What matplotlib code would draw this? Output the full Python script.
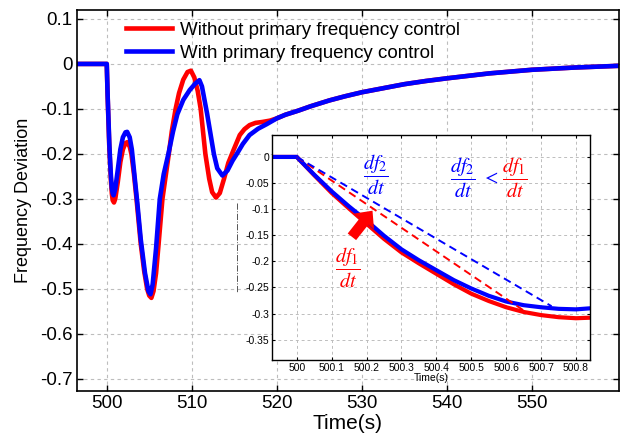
import matplotlib
matplotlib.use('Agg')
import matplotlib.pyplot as plt
from matplotlib.lines import Line2D
from matplotlib.ticker import FuncFormatter

plt.rcParams['font.family'] = 'Liberation Sans'
plt.rcParams['axes.unicode_minus'] = False
plt.rcParams['mathtext.fontset'] = 'stix'

# main curve, without primary frequency control (red)
t_red = [496.5, 500.0, 500.1, 500.2, 500.3, 500.4, 500.5, 500.6, 500.7, 500.85,
         501.0, 501.3, 501.6, 501.9, 502.2, 502.4, 502.7, 502.9, 503.2, 503.5,
         504.0, 504.4, 504.75, 505.0, 505.25, 505.5, 505.8, 506.1, 506.55, 507.0,
         507.3, 507.65, 508.1, 508.5, 509.0, 509.5, 509.9, 510.3, 510.7, 511.05,
         511.6, 512.05, 512.4, 512.85, 513.3, 513.8, 514.3, 514.9, 515.65, 516.2,
         516.8, 517.5, 518.3, 519.2, 520.0, 521.0, 522.5, 524.0, 526.2, 528.0,
         530.0, 532.5, 535.0, 537.5, 540.0, 545.0, 550.0, 555.0, 560.5]
f_red = [0, 0, -0.07, -0.128, -0.184, -0.224, -0.262, -0.288, -0.303, -0.308,
         -0.300, -0.262, -0.218, -0.190, -0.176, -0.174, -0.184, -0.200, -0.245, -0.300,
         -0.400, -0.460, -0.500, -0.515, -0.520, -0.505, -0.465, -0.400, -0.300, -0.240,
         -0.200, -0.150, -0.100, -0.065, -0.035, -0.018, -0.015, -0.030, -0.060, -0.100,
         -0.200, -0.255, -0.285, -0.297, -0.287, -0.255, -0.220, -0.192, -0.158, -0.145,
         -0.136, -0.131, -0.129, -0.126, -0.121, -0.113, -0.104, -0.094, -0.081, -0.072,
         -0.063, -0.054, -0.045, -0.038, -0.032, -0.021, -0.013, -0.008, -0.004]

# main curve, with primary frequency control (blue)
t_blue = [496.5, 500.0, 500.1, 500.2, 500.3, 500.4, 500.5, 500.6, 500.7, 500.8,
          501.0, 501.3, 501.6, 501.9, 502.2, 502.4, 502.7, 502.95, 503.3, 503.6,
          504.0, 504.5, 504.9, 505.14, 505.4, 505.8, 506.24, 506.7, 507.25, 507.8,
          508.3, 509.0, 509.76, 510.4, 510.9, 511.2, 511.5, 511.8, 512.2, 512.6,
          513.0, 513.6, 514.2, 514.8, 515.4, 516.0, 516.8, 517.8, 518.8, 520.0,
          521.0, 522.5, 524.0, 526.2, 528.0, 530.0, 532.5, 535.0, 537.5, 540.0,
          545.0, 550.0, 555.0, 560.5]
f_blue = [0, 0, -0.067, -0.122, -0.177, -0.217, -0.252, -0.277, -0.288, -0.292,
          -0.278, -0.235, -0.190, -0.163, -0.152, -0.151, -0.163, -0.190, -0.255, -0.310,
          -0.390, -0.465, -0.505, -0.512, -0.490, -0.410, -0.300, -0.245, -0.200, -0.150,
          -0.112, -0.080, -0.058, -0.044, -0.036, -0.050, -0.080, -0.110, -0.155, -0.200,
          -0.232, -0.248, -0.237, -0.215, -0.197, -0.178, -0.158, -0.144, -0.134, -0.121,
          -0.113, -0.104, -0.094, -0.081, -0.072, -0.063, -0.054, -0.045, -0.038, -0.032,
          -0.021, -0.013, -0.008, -0.004]

# zoomed view of the first 0.84 s
t_zoom = [499.93, 500.0, 500.05, 500.1, 500.15, 500.2, 500.25, 500.3, 500.35, 500.4,
          500.45, 500.5, 500.55, 500.6, 500.65, 500.7, 500.75, 500.8, 500.84]
red_zoom = [0, 0, -0.035, -0.069, -0.099, -0.128, -0.157, -0.183, -0.204, -0.224,
            -0.244, -0.262, -0.276, -0.288, -0.297, -0.303, -0.307, -0.309, -0.308]
blue_zoom = [0, 0, -0.034, -0.066, -0.095, -0.122, -0.151, -0.177, -0.198, -0.217,
             -0.236, -0.252, -0.266, -0.277, -0.284, -0.288, -0.291, -0.292, -0.290]

# initial slope lines (start, end)
slope1_t = [500.0, 500.654]
slope1_f = [0.0, -0.296]
slope2_t = [500.0, 500.73]
slope2_f = [0.0, -0.286]

main_xticks = [500, 510, 520, 530, 540, 550]
main_yticks = [0.1, 0, -0.1, -0.2, -0.3, -0.4, -0.5, -0.6, -0.7]
zoom_xticks = [500, 500.1, 500.2, 500.3, 500.4, 500.5, 500.6, 500.7, 500.8]
zoom_yticks = [0, -0.05, -0.1, -0.15, -0.2, -0.25, -0.3, -0.35]

fmt = FuncFormatter(lambda v, p: '%g' % round(v, 3))

fig = plt.figure(figsize=(6.25, 4.33), dpi=100)
ax = fig.add_axes([0.1232, 0.097, 0.8664, 0.880])

ax.plot(t_red, f_red, color='red', lw=3.3, label='Without primary frequency control')
ax.plot(t_blue, f_blue, color='blue', lw=3.3, label='With primary frequency control')
ax.set_xlim(496.5, 560.2)
ax.set_ylim(-0.727, 0.12)
ax.set_xticks(main_xticks)
ax.set_yticks(main_yticks)
ax.xaxis.set_major_formatter(fmt)
ax.yaxis.set_major_formatter(fmt)
ax.tick_params(direction='in', length=4, width=1, top=True, right=True,
               labelsize=13.5, pad=3)
ax.grid(True, color='#bdbdbd', linestyle=(0, (3, 3)), linewidth=0.8)
for s in ax.spines.values():
    s.set_linewidth(1.2)
ax.set_xlabel('Time(s)', fontsize=15, labelpad=1)
ax.set_ylabel('Frequency Deviation', fontsize=13, labelpad=6)
ax.legend(loc='upper left', bbox_to_anchor=(0.081, 0.982), frameon=False,
          fontsize=13.5, handlelength=2.5, handletextpad=0.4,
          labelspacing=0.32, borderpad=0.25, borderaxespad=0)

# stray mark left of the inset
fig.add_artist(Line2D([237 / 625, 237 / 625], [1 - 203 / 433, 1 - 293 / 433],
                      color='#555555', lw=0.7, linestyle='-.'))

ax_in = fig.add_axes([0.4357, 0.1686, 0.5083, 0.5196])
ax_in.plot(t_zoom, red_zoom, color='red', lw=3.0)
ax_in.plot(t_zoom, blue_zoom, color='blue', lw=3.0)
ax_in.plot(slope1_t, slope1_f, color='red', lw=1.4, dashes=(4, 2.5))
ax_in.plot(slope2_t, slope2_f, color='blue', lw=1.4, dashes=(4, 2.5))
ax_in.set_xlim(499.93, 500.84)
ax_in.set_ylim(-0.389, 0.042)
ax_in.set_xticks(zoom_xticks)
ax_in.set_yticks(zoom_yticks)
ax_in.xaxis.set_major_formatter(fmt)
ax_in.yaxis.set_major_formatter(fmt)
ax_in.tick_params(direction='in', length=2.5, width=0.8, top=True, right=True,
                  labelsize=7.5, pad=2)
ax_in.grid(True, color='#bdbdbd', linestyle=(0, (3, 3)), linewidth=0.7)
for s in ax_in.spines.values():
    s.set_linewidth(1.0)
ax_in.set_xlabel('Time(s)', fontsize=7.5, labelpad=0)

ax_in.annotate('', xy=(500.217, -0.103), xytext=(500.158, -0.153),
               arrowprops=dict(arrowstyle='simple,head_length=0.7,head_width=1.3,tail_width=0.55',
                               mutation_scale=14, color='red', lw=0,
                               shrinkA=0, shrinkB=0))

ax_in.text(500.226, -0.034, r'$\dfrac{df_2}{dt}$', color='blue', fontsize=14.5,
           ha='center', va='center')
ax_in.text(500.145, -0.212, r'$\dfrac{df_1}{dt}$', color='red', fontsize=14.5,
           ha='center', va='center')
ax_in.text(500.477, -0.041, r'$\dfrac{df_2}{dt}$', color='blue', fontsize=14.5,
           ha='center', va='center')
ax_in.text(500.554, -0.041, r'$<$', color='blue', fontsize=14,
           ha='center', va='center')
ax_in.text(500.626, -0.041, r'$\dfrac{df_1}{dt}$', color='red', fontsize=14.5,
           ha='center', va='center')

fig.savefig('out.png', dpi=100)
